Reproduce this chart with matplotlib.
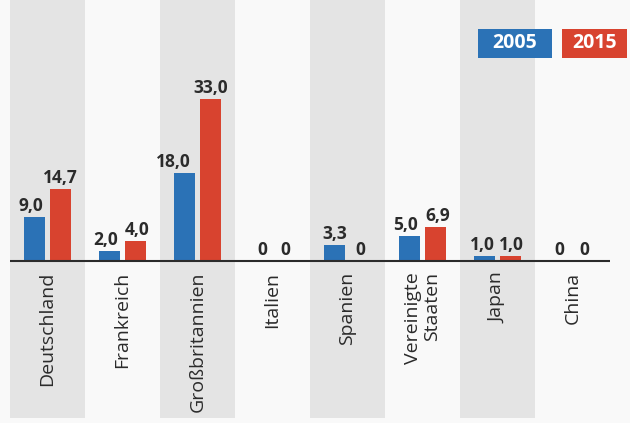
import matplotlib.pyplot as plt
from matplotlib.patches import Rectangle

# data
countries = ['Deutschland', 'Frankreich', 'Großbritannien', 'Italien',
             'Spanien', 'Vereinigte\nStaaten', 'Japan', 'China']
values_2005 = [9.0, 2.0, 18.0, 0, 3.3, 5.0, 1.0, 0]
values_2015 = [14.7, 4.0, 33.0, 0, 0, 6.9, 1.0, 0]
series_names = ['2005', '2015']

BLUE = '#2b72b6'
RED = '#d8432f'
TEXT = '#2b2b2b'
BAND = '#e4e4e4'
PAGE = '#f9f9f9'

# label nudges (points) so the numbers don't collide
nudge_2005 = [-2.5, -3.2, -8, 2, 0, -3, -1.5, 0]
nudge_2015 = [0, 1, 0, 0, 0, 2, 0.5, -1]

W, H = 630, 423
fig = plt.figure(figsize=(W / 100, H / 100), dpi=100, facecolor=PAGE)
ax = fig.add_axes([0, 0, 1, 1])
ax.set_facecolor(PAGE)

px_x = 75.0        # pixels per category
px_y = 4.9         # pixels per unit
base_px = 261      # baseline from top
x0_px = 47.5       # centre of first category
ax.set_xlim(-x0_px / px_x, (W - x0_px) / px_x)
ax.set_ylim(-(H - base_px) / px_y, base_px / px_y)
ax.axis('off')

def py(px_from_top):
    return (base_px - px_from_top) / px_y

# alternating grey bands
for i in range(0, len(countries), 2):
    ax.add_patch(Rectangle((i - 0.5, py(418)), 1.0, py(0) - py(418),
                           facecolor=BAND, edgecolor='none', zorder=0))

xs = list(range(len(countries)))
off = 0.17
bw = 0.28
ax.bar([x - off for x in xs], values_2005, width=bw, color=BLUE, zorder=2)
ax.bar([x + off for x in xs], values_2015, width=bw, color=RED, zorder=2)

ax.plot([-0.5, 7.5], [0, 0], color=TEXT, lw=1.5, zorder=3,
        solid_capstyle='butt')

def fmt(v):
    return '0' if v == 0 else f'{v:.1f}'.replace('.', ',')

for x, v, n in zip(xs, values_2005, nudge_2005):
    ax.annotate(fmt(v), (x - off, v), xytext=(n, 4.5), textcoords='offset points',
                ha='center', va='baseline', fontsize=12.5, fontweight='bold',
                family='Open Sans', color=TEXT, zorder=4)
for x, v, n in zip(xs, values_2015, nudge_2015):
    ax.annotate(fmt(v), (x + off, v), xytext=(n, 4.5), textcoords='offset points',
                ha='center', va='baseline', fontsize=12.5, fontweight='bold',
                family='Open Sans', color=TEXT, zorder=4)

for x, name in zip(xs, countries):
    ax.text(x, py(272), name, rotation=90, ha='center', va='top',
            multialignment='right', fontsize=14, family='Open Sans',
            color=TEXT, linespacing=1.1)

# legend boxes
for (x1, x2), name, col in zip([(478, 552), (562, 627)], series_names, [BLUE, RED]):
    fig.add_artist(Rectangle((x1 / W, 1 - 58 / H), (x2 - x1) / W, 29 / H,
                             transform=fig.transFigure, facecolor=col,
                             edgecolor='none'))
    fig.text((x1 + x2) / 2 / W, 1 - 43.5 / H, name, ha='center', va='center',
             fontsize=14, fontweight='bold', family='Open Sans', color='white')

fig.savefig('out.png', dpi=100, facecolor=PAGE)
